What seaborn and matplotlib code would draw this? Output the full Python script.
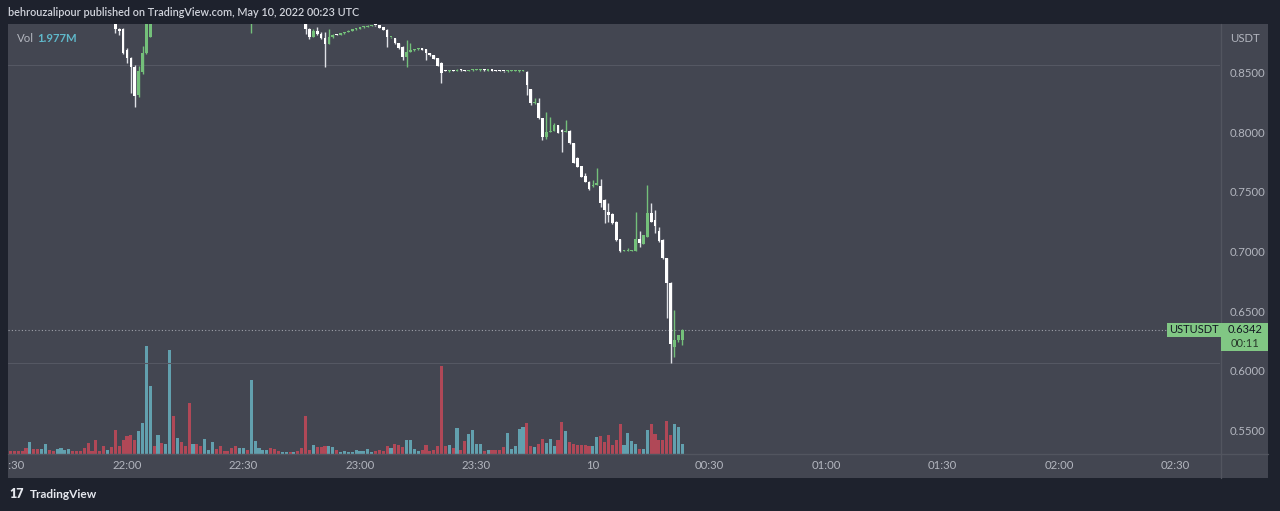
import numpy as np
import pandas as pd
import matplotlib
matplotlib.use("Agg")
import matplotlib.pyplot as plt
from matplotlib.patches import Rectangle
from matplotlib.lines import Line2D
from matplotlib.ticker import FuncFormatter
import seaborn as sns

# ---------------- data (1-minute candles, 21:30 -> 00:23 UTC) ----------------
minute_index = list(range(174))

open_ = [
    0.9180, 0.9165, 0.9150, 0.9140, 0.9130, 0.9110, 0.9150, 0.9135, 0.9120, 0.9135,
    0.9165, 0.9155, 0.9145, 0.9155, 0.9168, 0.9175, 0.9185, 0.9175, 0.9168, 0.9160,
    0.9145, 0.9115, 0.9108, 0.9070, 0.9062, 0.9035, 0.9042, 0.9000, 0.8862, 0.8860,
    0.8690, 0.8617, 0.8542, 0.8310, 0.8505, 0.8660, 0.8800, 0.9050, 0.9030, 0.9090,
    0.9070, 0.9085, 0.9180, 0.9120, 0.9140, 0.9125, 0.9110, 0.9030, 0.9050, 0.9040,
    0.9030, 0.9055, 0.9060, 0.9080, 0.9072, 0.9060, 0.9055, 0.9050, 0.9040, 0.9030,
    0.9036, 0.9042, 0.9010, 0.9080, 0.9100, 0.9108, 0.9112, 0.9118, 0.9110, 0.9100,
    0.9096, 0.9099, 0.9102, 0.9098, 0.9101, 0.9090, 0.9050, 0.8860, 0.8800, 0.8850,
    0.8825, 0.8790, 0.8740, 0.8795, 0.8818, 0.8814, 0.8826, 0.8838, 0.8850, 0.8859,
    0.8867, 0.8876, 0.8882, 0.8890, 0.8897, 0.8894, 0.8876, 0.8856, 0.8792, 0.8785,
    0.8745, 0.8714, 0.8630, 0.8672, 0.8686, 0.8692, 0.8700, 0.8693, 0.8662, 0.8645,
    0.8617, 0.8580, 0.8515, 0.8510, 0.8516, 0.8512, 0.8523, 0.8518, 0.8514, 0.8518,
    0.8520, 0.8517, 0.8522, 0.8515, 0.8518, 0.8515, 0.8513, 0.8512, 0.8510, 0.8511,
    0.8511, 0.8510, 0.8511, 0.8505, 0.8358, 0.8240, 0.8245, 0.8115, 0.7956, 0.8003,
    0.8012, 0.8059, 0.8017, 0.8003, 0.8012, 0.7910, 0.7780, 0.7715, 0.7632, 0.7584,
    0.7545, 0.7560, 0.7548, 0.7430, 0.7333, 0.7313, 0.7249, 0.7101, 0.7003, 0.7003,
    0.7003, 0.7003, 0.7106, 0.7063, 0.7124, 0.7325, 0.7263, 0.7175, 0.7096, 0.6942,
    0.6733, 0.6202, 0.6258, 0.6262,
]
high_ = [
    0.9188, 0.9170, 0.9155, 0.9146, 0.9134, 0.9158, 0.9154, 0.9140, 0.9140, 0.9172,
    0.9170, 0.9160, 0.9160, 0.9172, 0.9180, 0.9190, 0.9188, 0.9178, 0.9171, 0.9163,
    0.9148, 0.9120, 0.9112, 0.9075, 0.9066, 0.9048, 0.9046, 0.9004, 0.8875, 0.8870,
    0.8700, 0.8625, 0.8560, 0.8550, 0.8720, 0.8990, 0.9120, 0.9058, 0.9095, 0.9096,
    0.9090, 0.9190, 0.9185, 0.9145, 0.9144, 0.9128, 0.9114, 0.9055, 0.9054, 0.9044,
    0.9060, 0.9064, 0.9085, 0.9083, 0.9075, 0.9063, 0.9058, 0.9053, 0.9044, 0.9040,
    0.9046, 0.9045, 0.9120, 0.9105, 0.9112, 0.9115, 0.9122, 0.9121, 0.9113, 0.9103,
    0.9102, 0.9105, 0.9105, 0.9104, 0.9104, 0.9093, 0.9060, 0.8875, 0.8865, 0.8880,
    0.8835, 0.8840, 0.8862, 0.8822, 0.8822, 0.8829, 0.8841, 0.8853, 0.8862, 0.8870,
    0.8879, 0.8885, 0.8893, 0.8899, 0.8900, 0.8897, 0.8879, 0.8860, 0.8800, 0.8788,
    0.8748, 0.8717, 0.8770, 0.8745, 0.8695, 0.8703, 0.8703, 0.8696, 0.8665, 0.8648,
    0.8620, 0.8583, 0.8518, 0.8519, 0.8519, 0.8527, 0.8526, 0.8521, 0.8523, 0.8527,
    0.8527, 0.8526, 0.8525, 0.8521, 0.8521, 0.8518, 0.8516, 0.8515, 0.8516, 0.8516,
    0.8516, 0.8516, 0.8516, 0.8510, 0.8362, 0.8285, 0.8285, 0.8120, 0.8170, 0.8128,
    0.8075, 0.8062, 0.8022, 0.8102, 0.8015, 0.7912, 0.7790, 0.7718, 0.7660, 0.7586,
    0.7600, 0.7696, 0.7610, 0.7435, 0.7403, 0.7318, 0.7252, 0.7105, 0.7008, 0.7025,
    0.7008, 0.7333, 0.7169, 0.7140, 0.7556, 0.7403, 0.7346, 0.7207, 0.7100, 0.6945,
    0.6740, 0.6510, 0.6300, 0.6347,
]
low_ = [
    0.9160, 0.9145, 0.9135, 0.9125, 0.9105, 0.9104, 0.9130, 0.9116, 0.9115, 0.9130,
    0.9150, 0.9140, 0.9141, 0.9150, 0.9164, 0.9170, 0.9170, 0.9163, 0.9155, 0.9140,
    0.9108, 0.9102, 0.9062, 0.9058, 0.9030, 0.9030, 0.8995, 0.8828, 0.8812, 0.8650,
    0.8575, 0.8324, 0.8207, 0.8290, 0.8490, 0.8650, 0.8795, 0.9025, 0.9025, 0.9065,
    0.9066, 0.9080, 0.9115, 0.9116, 0.9120, 0.9106, 0.9024, 0.9026, 0.9036, 0.9026,
    0.9026, 0.9051, 0.9056, 0.9068, 0.9056, 0.9052, 0.9046, 0.9036, 0.9026, 0.9027,
    0.9032, 0.9005, 0.8830, 0.9075, 0.9096, 0.9104, 0.9108, 0.9106, 0.9096, 0.9093,
    0.9093, 0.9096, 0.9095, 0.9095, 0.9086, 0.9046, 0.8825, 0.8780, 0.8795, 0.8815,
    0.8780, 0.8545, 0.8735, 0.8790, 0.8810, 0.8811, 0.8823, 0.8835, 0.8847, 0.8856,
    0.8864, 0.8873, 0.8879, 0.8887, 0.8891, 0.8868, 0.8851, 0.8714, 0.8788, 0.8740,
    0.8698, 0.8603, 0.8547, 0.8669, 0.8683, 0.8689, 0.8687, 0.8603, 0.8641, 0.8608,
    0.8551, 0.8408, 0.8509, 0.8507, 0.8510, 0.8509, 0.8515, 0.8511, 0.8511, 0.8515,
    0.8517, 0.8514, 0.8514, 0.8512, 0.8512, 0.8510, 0.8508, 0.8507, 0.8507, 0.8508,
    0.8508, 0.8507, 0.8508, 0.8310, 0.8226, 0.8236, 0.8110, 0.7935, 0.7945, 0.7998,
    0.8008, 0.7990, 0.7835, 0.8000, 0.7900, 0.7740, 0.7705, 0.7622, 0.7580, 0.7516,
    0.7540, 0.7555, 0.7374, 0.7240, 0.7249, 0.7230, 0.7090, 0.6998, 0.7000, 0.7000,
    0.7000, 0.7000, 0.7039, 0.7060, 0.7120, 0.7245, 0.7156, 0.7080, 0.6938, 0.6440,
    0.6068, 0.6118, 0.6240, 0.6216,
]
close_ = [
    0.9165, 0.9150, 0.9140, 0.9130, 0.9110, 0.9150, 0.9135, 0.9120, 0.9135, 0.9165,
    0.9155, 0.9145, 0.9155, 0.9168, 0.9175, 0.9185, 0.9175, 0.9168, 0.9160, 0.9145,
    0.9115, 0.9108, 0.9070, 0.9062, 0.9035, 0.9042, 0.9000, 0.8862, 0.8845, 0.8660,
    0.8617, 0.8542, 0.8302, 0.8510, 0.8660, 0.8950, 0.9050, 0.9030, 0.9090, 0.9070,
    0.9085, 0.9180, 0.9120, 0.9140, 0.9125, 0.9110, 0.9030, 0.9050, 0.9040, 0.9030,
    0.9055, 0.9060, 0.9080, 0.9072, 0.9060, 0.9055, 0.9050, 0.9040, 0.9030, 0.9036,
    0.9042, 0.9010, 0.9080, 0.9100, 0.9108, 0.9112, 0.9118, 0.9110, 0.9100, 0.9096,
    0.9099, 0.9102, 0.9098, 0.9101, 0.9090, 0.9050, 0.8860, 0.8800, 0.8850, 0.8825,
    0.8790, 0.8735, 0.8800, 0.8815, 0.8814, 0.8826, 0.8838, 0.8850, 0.8859, 0.8867,
    0.8876, 0.8882, 0.8890, 0.8896, 0.8894, 0.8872, 0.8855, 0.8798, 0.8797, 0.8743,
    0.8701, 0.8626, 0.8672, 0.8686, 0.8692, 0.8700, 0.8690, 0.8660, 0.8645, 0.8612,
    0.8555, 0.8497, 0.8512, 0.8516, 0.8513, 0.8523, 0.8518, 0.8514, 0.8520, 0.8524,
    0.8524, 0.8523, 0.8517, 0.8518, 0.8515, 0.8513, 0.8511, 0.8510, 0.8513, 0.8513,
    0.8513, 0.8513, 0.8513, 0.8394, 0.8240, 0.8255, 0.8115, 0.7956, 0.8003, 0.8012,
    0.8059, 0.7994, 0.8003, 0.8012, 0.7905, 0.7743, 0.7710, 0.7626, 0.7584, 0.7520,
    0.7560, 0.7568, 0.7403, 0.7347, 0.7305, 0.7235, 0.7094, 0.7003, 0.7005, 0.7005,
    0.7005, 0.7106, 0.7067, 0.7137, 0.7319, 0.7249, 0.7213, 0.7086, 0.6942, 0.6733,
    0.6225, 0.6258, 0.6297, 0.6342,
]
volume_m = [
    0.64, 0.64, 0.64, 0.64, 1.15, 2.30, 1.02, 1.02, 1.02, 1.98,
    0.70, 0.64, 1.02, 1.15, 0.83, 1.02, 0.64, 0.64, 0.64, 1.15,
    2.11, 0.64, 2.75, 0.64, 1.60, 0.70, 1.28, 4.61, 1.60, 2.62,
    3.39, 3.71, 2.75, 4.35, 5.95, 20.67, 12.99, 1.47, 3.71, 2.11,
    1.92, 19.90, 7.36, 3.07, 2.24, 1.60, 9.79, 1.92, 1.92, 1.47,
    2.94, 0.83, 2.30, 1.02, 1.47, 0.64, 0.64, 1.15, 1.47, 1.15,
    1.15, 0.70, 14.14, 2.43, 1.15, 0.83, 0.83, 1.15, 0.96, 0.51,
    0.38, 0.32, 0.32, 0.38, 0.64, 1.15, 7.23, 0.83, 1.79, 1.34,
    1.34, 1.60, 1.47, 1.34, 0.83, 0.38, 0.64, 0.45, 0.38, 0.70,
    0.51, 0.51, 0.96, 0.45, 0.51, 0.70, 0.51, 1.47, 1.15, 1.98,
    1.79, 1.34, 2.75, 2.62, 0.96, 0.51, 0.83, 1.79, 0.51, 0.83,
    1.47, 16.96, 1.47, 1.79, 1.15, 4.99, 0.70, 2.43, 3.84, 4.54,
    1.98, 1.98, 0.51, 0.83, 0.83, 0.70, 0.83, 1.34, 4.03, 0.96,
    1.60, 4.80, 5.18, 5.95, 1.47, 1.34, 1.92, 2.88, 2.11, 2.88,
    1.60, 2.62, 6.08, 4.35, 2.24, 1.92, 1.79, 1.79, 1.66, 1.60,
    1.47, 3.26, 3.52, 2.24, 3.71, 1.79, 2.75, 5.76, 1.66, 4.03,
    2.43, 1.98, 1.02, 0.96, 4.67, 5.82, 3.84, 2.75, 2.62, 6.40,
    3.71, 5.82, 5.18, 1.977,
]

time_tick_pos = [0, 30, 60, 90, 120, 150, 180, 210, 240, 270, 300]
time_tick_labels = ["21:30", "22:00", "22:30", "23:00", "23:30", "10",
                    "00:30", "01:00", "01:30", "02:00", "02:30"]
price_ticks = [0.55, 0.60, 0.65, 0.70, 0.75, 0.80, 0.85]
ref_levels = [0.8561, 0.6067]
last_price = 0.6342
last_volume_label = "1.977M"
symbol = "USTUSDT"
countdown = "00:11"
title_text = "behrouzalipour published on TradingView.com, May 10, 2022 00:23 UTC"

# ---------------- style ----------------
OUTER = "#1e222d"
PANEL = "#434651"
SEP = "#52555f"
TXT = "#b2b5be"
UP_C = "#74c07a"
DOWN_C = "#ffffff"
DOWN_WICK = "#dfe1e6"
VOL_UP = "#62a0ae"
VOL_DOWN = "#b04857"
LABEL_G = "#81c784"

sns.set_theme(style="dark", rc={"axes.facecolor": PANEL, "figure.facecolor": OUTER})
plt.rcParams["font.family"] = ["Lato", "DejaVu Sans"]

W, H = 1280, 511
fig = plt.figure(figsize=(W / 100, H / 100), dpi=100)
fig.patch.set_facecolor(OUTER)


def fx(px):
    return px / W


def fy(py):
    return 1 - py / H


panel = Rectangle((fx(8), fy(478)), fx(1268) - fx(8), fy(24) - fy(478),
                  transform=fig.transFigure, facecolor=PANEL, edgecolor="none", zorder=-5)
fig.add_artist(panel)

rect = [fx(8), fy(454), fx(1220) - fx(8), fy(24) - fy(454)]
axv = fig.add_axes(rect)
ax = fig.add_axes(rect)
XLIM = (-0.644, 311.5)
YLIM = (0.5303, 0.8905)

# ---------------- volume (seaborn) ----------------
o = np.array(open_)
h = np.array(high_)
l = np.array(low_)
c = np.array(close_)
x = np.array(minute_index)
up = c >= o

vol_df = pd.DataFrame({
    "minute": minute_index,
    "volume": volume_m,
    "direction": np.where(up, "up", "down"),
})
sns.barplot(data=vol_df, x="minute", y="volume", hue="direction",
            palette={"up": VOL_UP, "down": VOL_DOWN}, native_scale=True,
            dodge=False, width=0.8, saturation=1, errorbar=None, legend=False,
            linewidth=0, ax=axv)
axv.set_xlim(*XLIM)
axv.set_ylim(0, 82.56)
axv.axis("off")

# ---------------- candles ----------------
ax.patch.set_visible(False)
for lvl in ref_levels:
    ax.axhline(lvl, color="#555863", lw=0.8, zorder=1)
ax.axhline(last_price, color="#9ea1aa", lw=0.8, ls=(0, (1, 2)), zorder=1)

ax.vlines(x[up], l[up], h[up], color=UP_C, lw=1.0, zorder=2)
ax.vlines(x[~up], l[~up], h[~up], color=DOWN_WICK, lw=1.0, zorder=2)
body_h = np.maximum(np.abs(c - o), 0.0009)
ax.bar(x, body_h, bottom=np.minimum(o, c), width=0.7,
       color=np.where(up, UP_C, DOWN_C), linewidth=0, zorder=3)

ax.set_xlim(*XLIM)
ax.set_ylim(*YLIM)
for s in ax.spines.values():
    s.set_visible(False)
ax.grid(False)
ax.set_xlabel("")
ax.set_ylabel("")

ax.yaxis.tick_right()
ax.set_yticks(price_ticks)
ax.yaxis.set_major_formatter(FuncFormatter(lambda v, p: f"{v:.4f}"))
ax.tick_params(axis="y", length=0, pad=6.6, labelsize=8.2, labelcolor=TXT)
ax.set_xticks(time_tick_pos, time_tick_labels)
ax.tick_params(axis="x", length=0, pad=4.6, labelsize=8.2, labelcolor=TXT)

clip_rect = Rectangle((fx(8), 0), fx(1268) - fx(8), 1, transform=fig.transFigure)
for t in ax.xaxis.get_major_ticks():
    t.label1.set_clip_path(clip_rect)

# ---------------- separators ----------------
fig.add_artist(Line2D([fx(1221), fx(1221)], [fy(24), fy(478)], transform=fig.transFigure,
                      color=SEP, lw=1.0, zorder=4))
fig.add_artist(Line2D([fx(8), fx(1268)], [fy(454), fy(454)], transform=fig.transFigure,
                      color=SEP, lw=1.0, zorder=4))

# ---------------- texts ----------------
fig.text(fx(8), fy(12), title_text, ha="left", va="center", color="#d1d4dc",
         fontsize=7.8, fontweight="semibold")
fig.text(fx(17), fy(38), "Vol", ha="left", va="center", color=TXT, fontsize=8.2)
fig.text(fx(37), fy(38), last_volume_label, ha="left", va="center", color="#5fb8ca",
         fontsize=8.2, fontweight="bold")
fig.text(fx(1245), fy(38), "USDT", ha="center", va="center", color=TXT, fontsize=8.2)

# current price label boxes
yp = ax.transData.transform((0, last_price))[1] / fig.bbox.height  # figure fraction
box_h1 = 14.6 / H
fig.add_artist(Rectangle((fx(1167), yp - box_h1 / 2), fx(1221) - fx(1167), box_h1,
                         transform=fig.transFigure, facecolor=LABEL_G, edgecolor="none", zorder=6))
fig.add_artist(Rectangle((fx(1221), yp + box_h1 / 2 - 28.3 / H), fx(1268) - fx(1221), 28.3 / H,
                         transform=fig.transFigure, facecolor=LABEL_G, edgecolor="none", zorder=6))
fig.text(fx(1194), yp, symbol, ha="center", va="center", color="#131722", fontsize=8.0, zorder=7)
fig.text(fx(1245), yp, f"{last_price:.4f}", ha="center", va="center", color="#131722",
         fontsize=8.0, zorder=7)
fig.text(fx(1245), yp - 14 / H, countdown, ha="center", va="center", color="#2a3a2c",
         fontsize=8.0, zorder=7)

# TradingView logo
fig.text(fx(9), fy(494), "17", ha="left", va="center", color="#e6e8ee", fontsize=9,
         fontweight="heavy")
fig.text(fx(30), fy(494), "TradingView", ha="left", va="center", color="#e6e8ee",
         fontsize=8.6, fontweight="bold")

fig.savefig("out.png", dpi=100, facecolor=OUTER)
